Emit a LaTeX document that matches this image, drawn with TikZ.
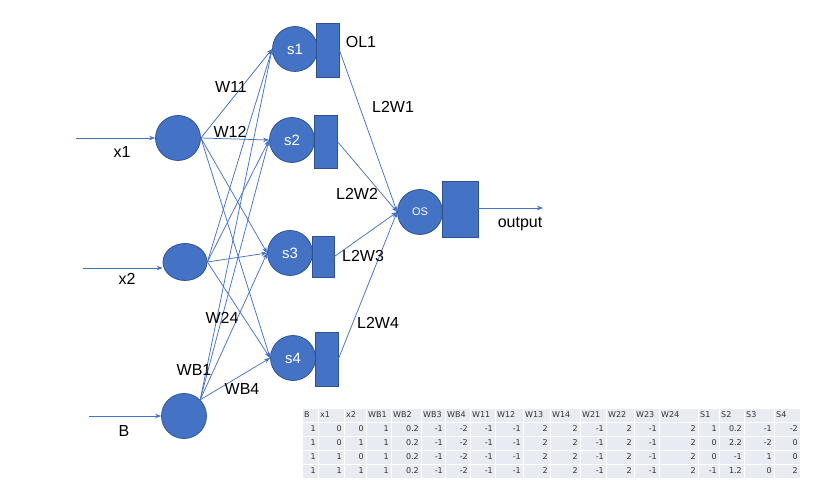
\documentclass[tikz,border=0pt]{standalone}
\usepackage{fontspec}
\setmainfont{Liberation Sans}
\newfontfamily\tablefont{DejaVu Sans}
\usetikzlibrary{arrows.meta,shapes.geometric}
\definecolor{nblue}{HTML}{4472C4}
\definecolor{nedge}{HTML}{2F528F}
\definecolor{cellbg}{HTML}{E9EBF2}
\tikzset{
  neuron/.style={circle, fill=nblue, draw=nedge, line width=0.75pt, inner sep=0pt, minimum size=45pt, text=white, font=\fontsize{15}{17}\selectfont},
  actbox/.style={rectangle, fill=nblue, draw=nedge, line width=0.75pt, inner sep=0pt, minimum width=23pt},
  link/.style={nblue, line width=0.75pt, -{Stealth[length=6pt,width=4.5pt]}},
  wlabel/.style={font=\fontsize{16}{18}\selectfont, inner sep=0pt},
  cellhead/.style={font=\tablefont\fontsize{8}{9}\selectfont, text=black!80, inner sep=0pt, anchor=west},
  cellnum/.style={font=\tablefont\fontsize{8}{9}\selectfont, text=black!80, inner sep=0pt, anchor=east}
}
\begin{document}
\begin{tikzpicture}[x=1pt,y=-1pt]
      \useasboundingbox (0,0) rectangle (817,486);

      % input layer
      \node[neuron] (in1) at (178,138) {};
      \node[neuron, ellipse, minimum width=44pt, minimum height=37pt] (in2) at (185,262) {};
      \node[neuron] (inB) at (184,416) {};
      \coordinate (c1) at (76,138);
      \coordinate (c2) at (83,268);
      \coordinate (cB) at (89,416);
      \draw[link] (c1) -- (in1.west);
      \draw[link] (c2) -- (c2 -| in2.west);
      \draw[link] (cB) -- (inB.west);
      \node[wlabel] (lx1) at (122,152) {x1};
      \node[wlabel] (lx2) at (127,279) {x2};
      \node[wlabel] (lB) at (124,431) {B};

      % hidden layer
      \node[neuron] (s1) at (295,49) {s1};
      \node[neuron] (s2) at (292,140) {s2};
      \node[neuron] (s3) at (290,253) {s3};
      \node[neuron] (s4) at (293,358) {s4};
      \node[actbox, minimum height=54pt] (a1) at (327.5,50) {};
      \node[actbox, minimum height=53pt] (a2) at (325.5,141.5) {};
      \node[actbox, minimum width=22pt, minimum height=41pt] (a3) at (323,256.5) {};
      \node[actbox, minimum height=54pt] (a4) at (326.5,359) {};

      % output layer
      \node[neuron, font=\fontsize{11}{13}\selectfont] (os) at (420,212) {OS};
      \node[actbox, minimum width=36pt, minimum height=56pt] (aos) at (460,209) {};
      \coordinate (out) at (543,208);
      \draw[link] (aos.east |- out) -- (out);
      \node[wlabel] (lout) at (520,224) {output};

      % weights input -> hidden
      \foreach \src in {in1.east, in2.east, inB.north east}
        \foreach \dst in {s1,s2,s3,s4}
          \draw[link] (\src) -- (\dst.west);

      % weights hidden -> output
      \foreach \i in {1,...,4}
        \draw[link] (a\i.east) -- (os.west);

      % weight labels
      \node[wlabel] (lw11) at (231,87) {W11};
      \node[wlabel] (lw12) at (230,132) {W12};
      \node[wlabel] (lw24) at (222,318) {W24};
      \node[wlabel] (lwb1) at (194,370) {WB1};
      \node[wlabel] (lwb4) at (242,389) {WB4};
      \node[wlabel] (lol1) at (361,42) {OL1};
      \node[wlabel] (ll21) at (393,107) {L2W1};
      \node[wlabel] (ll22) at (357,194) {L2W2};
      \node[wlabel] (ll23) at (363,256) {L2W3};
      \node[wlabel] (ll24) at (378,323) {L2W4};

      % table of values
      \fill[cellbg] (302,408) rectangle (800,478);
      \foreach \xl/\xr/\h/\va/\vb/\vc/\vd [count=\i] in {
          302/318/B/1/1/1/1, 318/344/x1/0/0/1/1, 344/366/x2/0/1/0/1,
          366/391/WB1/1/1/1/1, 391/421/WB2/0.2/0.2/0.2/0.2, 421/445/WB3/-1/-1/-1/-1,
          445/470/WB4/-2/-2/-2/-2, 470/495/W11/-1/-1/-1/-1, 495/523/W12/-1/-1/-1/-1,
          523/550/W13/2/2/2/2, 550/580/W14/2/2/2/2, 580/606/W21/-1/-1/-1/-1,
          606/634/W22/2/2/2/2, 634/659/W23/-1/-1/-1/-1, 659/698/W24/2/2/2/2,
          698/719/S1/1/0/0/-1, 719/744/S2/0.2/2.2/-1/1.2, 744/774/S3/-1/-2/1/0,
          774/800/S4/-2/0/0/2}{
        \draw[white, line width=1pt] (\xl,408) -- (\xl,478);
        \node[cellhead] (hd\i) at (\xl+2,415) {\h};
        \node[cellnum] (ca\i) at (\xr-2,429) {\va};
        \node[cellnum] (cb\i) at (\xr-2,443) {\vb};
        \node[cellnum] (cc\i) at (\xr-2,457) {\vc};
        \node[cellnum] (cd\i) at (\xr-2,471) {\vd};
      }
      \foreach \y in {408,422,436,450,464,478}
        \draw[white, line width=1pt] (302,\y) -- (800,\y);
\end{tikzpicture}
\end{document}
